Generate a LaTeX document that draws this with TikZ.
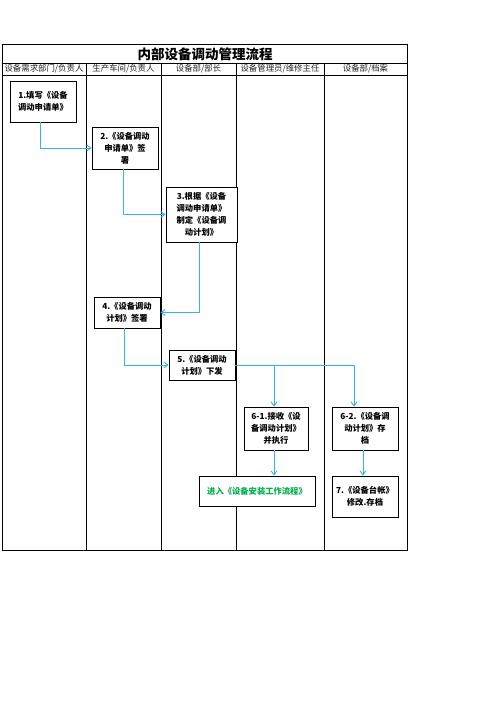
\documentclass[tikz,border=0pt]{standalone}
\usepackage{fontspec}
\setmainfont{Noto Sans CJK SC}
\usetikzlibrary{arrows.meta,calc}
\definecolor{flow}{HTML}{33B5EA}
\definecolor{gogreen}{HTML}{00B050}
\tikzset{
  grid/.style={draw=black, line width=0.9pt},
  stepbox/.style={draw=black, line width=0.9pt, fill=white, align=center, inner sep=1pt,
    font=\fontsize{8.3}{12}\selectfont\bfseries},
  lane/.style={font=\fontsize{8.4}{9}\selectfont, text=black!85},
  conn/.style={draw=flow, line width=0.9pt, -{Straight Barb[length=4pt,width=6pt]}},
}
\begin{document}
\begin{tikzpicture}[x=1pt,y=-1pt]
\useasboundingbox (0,0) rectangle (496,702);
% table
\draw[grid] (2,44) rectangle (407,550);
\draw[grid] (2,63) -- (407,63);
\draw[grid] (2,75) -- (407,75);
\foreach \xx in {86,161,236,324} \draw[grid] (\xx,63) -- (\xx,550);
\node (title) at (205,54) {\fontsize{13.5}{14}\selectfont\bfseries 内部设备调动管理流程};
\node[lane] (h1) at (44,69) {设备需求部门/负责人};
\node[lane] (h2) at (123.5,69) {生产车间/负责人};
\node[lane] (h3) at (198.5,69) {设备部/部长};
\node[lane] (h4) at (280,69) {设备管理员/维修主任};
\node[lane] (h5) at (365.5,69) {设备部/档案};
% boxes
\node[stepbox, minimum width=66pt, minimum height=41pt] (b1) at (43,101.5) {1.填写《设备\\调动申请单》};
\node[stepbox, minimum width=66pt, minimum height=42pt] (b2) at (125,148) {2.《设备调动\\申请单》签\\署};
\node[stepbox, minimum width=71pt, minimum height=55pt] (b3) at (201.5,214.5) {3.根据《设备\\调动申请单》\\制定《设备调\\动计划》};
\node[stepbox, minimum width=66pt, minimum height=31pt] (b4) at (127,312.5) {4.《设备调动\\计划》签署};
\node[stepbox, minimum width=66pt, minimum height=30pt] (b5) at (202,365) {5.《设备调动\\计划》下发};
\node[stepbox, minimum width=64pt, minimum height=43pt] (b61) at (276,428.5) {6-1.接收《设\\备调动计划》\\并执行};
\node[stepbox, minimum width=66pt, minimum height=43pt] (b62) at (365,428.5) {6-2.《设备调\\动计划》存\\档};
\node[stepbox, minimum width=116pt, minimum height=30pt, text=gogreen] (enter) at (257,491) {进入《设备安装工作流程》};
\node[stepbox, minimum width=66pt, minimum height=41pt] (b7) at (365,496.5) {7.《设备台帐》\\修改.存档};
% connectors
\draw[conn] ($(b1.south)+(-3,0)$) |- (b2.west);
\draw[conn] ($(b2.south)+(-2,0)$) |- (b3.west);
\draw[conn] ($(b3.south)+(-2.5,0)$) |- (b4.east);
\draw[conn] ($(b4.south)+(-3,0)$) |- (b5.west);
\coordinate (t61) at ($(b61.north)+(-2,0)$);
\coordinate (t62) at ($(b62.north)+(-11,0)$);
\draw[conn] (b5.east) -| (t61);
\draw[conn] (b5.east) -| (t62);
\draw[conn] ($(b61.south)+(-2,0)$) -- (t61 |- enter.north);
\draw[conn] ($(b62.south)+(-2,0)$) -- ($(b7.north)+(-2,0)$);
\end{tikzpicture}
\end{document}
